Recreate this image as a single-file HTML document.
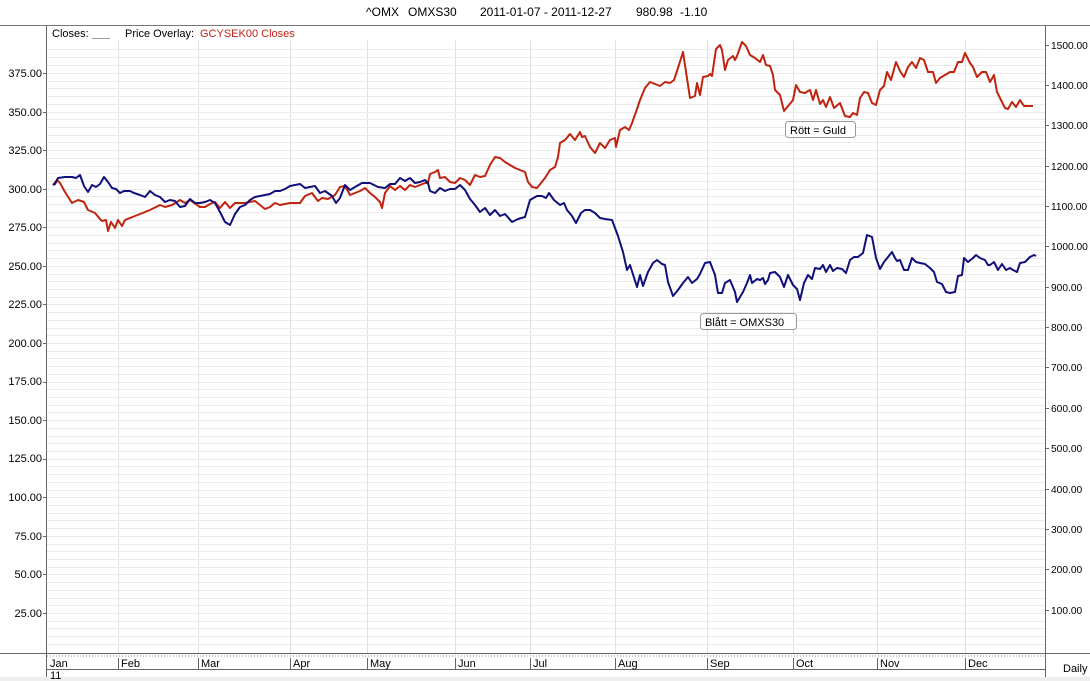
<!DOCTYPE html>
<html><head><meta charset="utf-8"><style>
body{margin:0;background:#fff;width:1090px;height:681px;overflow:hidden}
svg{display:block;font-family:"Liberation Sans",sans-serif}
</style></head><body>
<svg width="1090" height="681" viewBox="0 0 1090 681" xmlns="http://www.w3.org/2000/svg">
<rect width="1090" height="681" fill="#fff"/>
<g font-size="12" fill="#000">
<text x="366" y="16">^OMX</text><text x="408" y="16">OMXS30</text>
<text x="480" y="16">2011-01-07 - 2011-12-27</text>
<text x="636" y="16">980.98</text><text x="680" y="16">-1.10</text>
</g>
<line x1="0" y1="25.5" x2="1090" y2="25.5" stroke="#777" stroke-width="1"/>
<g stroke="#e0e0e0">
<line x1="118.5" y1="40" x2="118.5" y2="653"/><line x1="198.5" y1="40" x2="198.5" y2="653"/>
<line x1="290.5" y1="40" x2="290.5" y2="653"/><line x1="367.5" y1="40" x2="367.5" y2="653"/>
<line x1="455.5" y1="40" x2="455.5" y2="653"/><line x1="530.5" y1="40" x2="530.5" y2="653"/>
<line x1="615.5" y1="40" x2="615.5" y2="653"/><line x1="707.5" y1="40" x2="707.5" y2="653"/>
<line x1="793.5" y1="40" x2="793.5" y2="653"/><line x1="877.5" y1="40" x2="877.5" y2="653"/>
<line x1="965.5" y1="40" x2="965.5" y2="653"/>
</g>
<g stroke="#ebebeb" stroke-width="1">
<line x1="47" x2="1045" y1="49.5" y2="49.5"/><line x1="47" x2="1045" y1="57.5" y2="57.5"/><line x1="47" x2="1045" y1="65.5" y2="65.5"/><line x1="47" x2="1045" y1="73.5" y2="73.5"/><line x1="47" x2="1045" y1="81.5" y2="81.5"/><line x1="47" x2="1045" y1="88.5" y2="88.5"/><line x1="47" x2="1045" y1="96.5" y2="96.5"/><line x1="47" x2="1045" y1="104.5" y2="104.5"/><line x1="47" x2="1045" y1="112.5" y2="112.5"/><line x1="47" x2="1045" y1="119.5" y2="119.5"/><line x1="47" x2="1045" y1="127.5" y2="127.5"/><line x1="47" x2="1045" y1="135.5" y2="135.5"/><line x1="47" x2="1045" y1="142.5" y2="142.5"/><line x1="47" x2="1045" y1="150.5" y2="150.5"/><line x1="47" x2="1045" y1="158.5" y2="158.5"/><line x1="47" x2="1045" y1="166.5" y2="166.5"/><line x1="47" x2="1045" y1="173.5" y2="173.5"/><line x1="47" x2="1045" y1="181.5" y2="181.5"/><line x1="47" x2="1045" y1="189.5" y2="189.5"/><line x1="47" x2="1045" y1="196.5" y2="196.5"/><line x1="47" x2="1045" y1="204.5" y2="204.5"/><line x1="47" x2="1045" y1="212.5" y2="212.5"/><line x1="47" x2="1045" y1="220.5" y2="220.5"/><line x1="47" x2="1045" y1="227.5" y2="227.5"/><line x1="47" x2="1045" y1="235.5" y2="235.5"/><line x1="47" x2="1045" y1="243.5" y2="243.5"/><line x1="47" x2="1045" y1="250.5" y2="250.5"/><line x1="47" x2="1045" y1="258.5" y2="258.5"/><line x1="47" x2="1045" y1="266.5" y2="266.5"/><line x1="47" x2="1045" y1="274.5" y2="274.5"/><line x1="47" x2="1045" y1="281.5" y2="281.5"/><line x1="47" x2="1045" y1="289.5" y2="289.5"/><line x1="47" x2="1045" y1="297.5" y2="297.5"/><line x1="47" x2="1045" y1="304.5" y2="304.5"/><line x1="47" x2="1045" y1="312.5" y2="312.5"/><line x1="47" x2="1045" y1="320.5" y2="320.5"/><line x1="47" x2="1045" y1="328.5" y2="328.5"/><line x1="47" x2="1045" y1="335.5" y2="335.5"/><line x1="47" x2="1045" y1="343.5" y2="343.5"/><line x1="47" x2="1045" y1="351.5" y2="351.5"/><line x1="47" x2="1045" y1="358.5" y2="358.5"/><line x1="47" x2="1045" y1="366.5" y2="366.5"/><line x1="47" x2="1045" y1="374.5" y2="374.5"/><line x1="47" x2="1045" y1="382.5" y2="382.5"/><line x1="47" x2="1045" y1="389.5" y2="389.5"/><line x1="47" x2="1045" y1="397.5" y2="397.5"/><line x1="47" x2="1045" y1="405.5" y2="405.5"/><line x1="47" x2="1045" y1="412.5" y2="412.5"/><line x1="47" x2="1045" y1="420.5" y2="420.5"/><line x1="47" x2="1045" y1="428.5" y2="428.5"/><line x1="47" x2="1045" y1="436.5" y2="436.5"/><line x1="47" x2="1045" y1="443.5" y2="443.5"/><line x1="47" x2="1045" y1="451.5" y2="451.5"/><line x1="47" x2="1045" y1="459.5" y2="459.5"/><line x1="47" x2="1045" y1="466.5" y2="466.5"/><line x1="47" x2="1045" y1="474.5" y2="474.5"/><line x1="47" x2="1045" y1="482.5" y2="482.5"/><line x1="47" x2="1045" y1="490.5" y2="490.5"/><line x1="47" x2="1045" y1="497.5" y2="497.5"/><line x1="47" x2="1045" y1="505.5" y2="505.5"/><line x1="47" x2="1045" y1="513.5" y2="513.5"/><line x1="47" x2="1045" y1="520.5" y2="520.5"/><line x1="47" x2="1045" y1="528.5" y2="528.5"/><line x1="47" x2="1045" y1="536.5" y2="536.5"/><line x1="47" x2="1045" y1="544.5" y2="544.5"/><line x1="47" x2="1045" y1="551.5" y2="551.5"/><line x1="47" x2="1045" y1="559.5" y2="559.5"/><line x1="47" x2="1045" y1="567.5" y2="567.5"/><line x1="47" x2="1045" y1="574.5" y2="574.5"/><line x1="47" x2="1045" y1="582.5" y2="582.5"/><line x1="47" x2="1045" y1="590.5" y2="590.5"/><line x1="47" x2="1045" y1="598.5" y2="598.5"/><line x1="47" x2="1045" y1="605.5" y2="605.5"/><line x1="47" x2="1045" y1="613.5" y2="613.5"/><line x1="47" x2="1045" y1="621.5" y2="621.5"/><line x1="47" x2="1045" y1="628.5" y2="628.5"/><line x1="47" x2="1045" y1="636.5" y2="636.5"/><line x1="47" x2="1045" y1="644.5" y2="644.5"/>
</g>
<g stroke="#666" stroke-width="1" fill="none">
<line x1="46.5" y1="25" x2="46.5" y2="681"/>
<line x1="1045.5" y1="25" x2="1045.5" y2="681"/>
<line x1="0" y1="653.5" x2="1090" y2="653.5"/>
<line x1="46" y1="669.5" x2="1045" y2="669.5"/>
<line x1="118.5" y1="658" x2="118.5" y2="669"/><line x1="198.5" y1="658" x2="198.5" y2="669"/><line x1="290.5" y1="658" x2="290.5" y2="669"/><line x1="367.5" y1="658" x2="367.5" y2="669"/><line x1="455.5" y1="658" x2="455.5" y2="669"/><line x1="530.5" y1="658" x2="530.5" y2="669"/><line x1="615.5" y1="658" x2="615.5" y2="669"/><line x1="707.5" y1="658" x2="707.5" y2="669"/><line x1="793.5" y1="658" x2="793.5" y2="669"/><line x1="877.5" y1="658" x2="877.5" y2="669"/><line x1="965.5" y1="658" x2="965.5" y2="669"/>
</g>
<line x1="47" y1="656" x2="1045" y2="656" stroke="#888" stroke-dasharray="1,2"/>
<rect x="0" y="677" width="1090" height="4" fill="#eee"/>
<g font-size="11" fill="#000">
<text x="50" y="667">Jan</text><text x="121" y="667">Feb</text><text x="201" y="667">Mar</text><text x="293" y="667">Apr</text><text x="370" y="667">May</text><text x="458" y="667">Jun</text><text x="533" y="667">Jul</text><text x="618" y="667">Aug</text><text x="710" y="667">Sep</text><text x="796" y="667">Oct</text><text x="880" y="667">Nov</text><text x="968" y="667">Dec</text>
<text x="50" y="679">11</text><text x="1063" y="672">Daily</text>
</g>
<g font-size="11" fill="#000" text-anchor="end">
<text x="42" y="77">375.00</text><text x="42" y="116">350.00</text><text x="42" y="154">325.00</text><text x="42" y="193">300.00</text><text x="42" y="231">275.00</text><text x="42" y="270">250.00</text><text x="42" y="308">225.00</text><text x="42" y="347">200.00</text><text x="42" y="385">175.00</text><text x="42" y="424">150.00</text><text x="42" y="462">125.00</text><text x="42" y="501">100.00</text><text x="42" y="540">75.00</text><text x="42" y="578">50.00</text><text x="42" y="617">25.00</text>
</g>
<g stroke="#666"><line x1="43" x2="47" y1="73.5" y2="73.5"/><line x1="43" x2="47" y1="112.5" y2="112.5"/><line x1="43" x2="47" y1="150.5" y2="150.5"/><line x1="43" x2="47" y1="189.5" y2="189.5"/><line x1="43" x2="47" y1="227.5" y2="227.5"/><line x1="43" x2="47" y1="266.5" y2="266.5"/><line x1="43" x2="47" y1="304.5" y2="304.5"/><line x1="43" x2="47" y1="343.5" y2="343.5"/><line x1="43" x2="47" y1="382.5" y2="382.5"/><line x1="43" x2="47" y1="420.5" y2="420.5"/><line x1="43" x2="47" y1="459.5" y2="459.5"/><line x1="43" x2="47" y1="497.5" y2="497.5"/><line x1="43" x2="47" y1="536.5" y2="536.5"/><line x1="43" x2="47" y1="574.5" y2="574.5"/><line x1="43" x2="47" y1="613.5" y2="613.5"/>
<line x1="1045" x2="1049" y1="45.5" y2="45.5"/><line x1="1045" x2="1049" y1="85.5" y2="85.5"/><line x1="1045" x2="1049" y1="125.5" y2="125.5"/><line x1="1045" x2="1049" y1="166.5" y2="166.5"/><line x1="1045" x2="1049" y1="206.5" y2="206.5"/><line x1="1045" x2="1049" y1="246.5" y2="246.5"/><line x1="1045" x2="1049" y1="287.5" y2="287.5"/><line x1="1045" x2="1049" y1="327.5" y2="327.5"/><line x1="1045" x2="1049" y1="367.5" y2="367.5"/><line x1="1045" x2="1049" y1="408.5" y2="408.5"/><line x1="1045" x2="1049" y1="448.5" y2="448.5"/><line x1="1045" x2="1049" y1="489.5" y2="489.5"/><line x1="1045" x2="1049" y1="529.5" y2="529.5"/><line x1="1045" x2="1049" y1="569.5" y2="569.5"/><line x1="1045" x2="1049" y1="610.5" y2="610.5"/></g>
<g font-size="10.2" fill="#000">
<text x="1051" y="49">1500.00</text><text x="1051" y="89">1400.00</text><text x="1051" y="129">1300.00</text><text x="1051" y="170">1200.00</text><text x="1051" y="210">1100.00</text><text x="1051" y="250">1000.00</text><text x="1051" y="291">900.00</text><text x="1051" y="331">800.00</text><text x="1051" y="371">700.00</text><text x="1051" y="412">600.00</text><text x="1051" y="452">500.00</text><text x="1051" y="493">400.00</text><text x="1051" y="533">300.00</text><text x="1051" y="573">200.00</text><text x="1051" y="614">100.00</text>
</g>
<g font-size="11">
<text x="52" y="37" fill="#000">Closes:</text>
<line x1="92" y1="38.5" x2="110" y2="38.5" stroke="#99a" />
<text x="125" y="37" fill="#000">Price Overlay:</text>
<text x="200" y="37" fill="#c0221a">GCYSEK00 Closes</text>
</g>
<polyline fill="none" stroke="#c0240f" stroke-width="2" stroke-linejoin="round" points="53,185 57,180 60,183 65,192 72,203 78,200 84,202 88,210 95,213 100,219 102,221 106,220 108,231 111,222 115,228 118,220 122,226 125,220 135,216 140,214 150,210 160,205 165,207 172,205 180,200 185,203 190,200 200,207 205,207 210,204 215,202 220,208 225,202 230,208 235,203 240,203 245,203 255,201 265,209 270,207 275,203 280,205 290,203 300,203 305,196 312,193 318,201 322,198 328,199 335,195 340,187 345,186 350,195 355,193 360,191 365,188 370,193 375,197 380,202 382,208 385,193 390,186 395,190 400,186 405,190 410,185 415,187 420,185 425,183 428,183 430,174 435,172 438,170 440,178 445,177 450,182 455,183 460,178 465,180 470,185 475,175 480,177 485,176 490,165 495,157 500,158 505,162 510,165 515,168 520,170 525,172 528,182 532,187 537,188 545,178 550,170 555,167 558,157 560,143 565,140 570,134 575,140 580,132 582,137 585,136 590,147 595,153 600,143 605,148 610,140 615,138 616,147 620,130 625,127 629,130 632,123 637,109 640,100 645,88 650,82 655,84 660,86 665,82 670,83 674,80 678,68 683,52 690,98 695,96 697,83 700,95 703,77 708,76 710,74 712,76 716,49 720,45 722,50 725,70 728,60 733,56 735,60 737,56 742,42 746,46 750,55 755,58 760,62 763,55 766,65 770,66 773,75 775,90 780,95 784,111 789,105 793,100 796,85 800,92 805,93 808,91 810,90 813,100 816,90 820,104 823,100 826,107 830,97 834,108 840,103 845,116 850,117 853,113 857,115 860,98 864,92 868,93 872,103 876,105 880,90 884,86 887,72 891,80 896,62 900,71 904,77 908,67 912,62 916,68 920,58 924,60 928,72 933,72 936,83 940,78 945,75 950,72 954,72 958,62 962,62 965,53 970,63 973,67 977,77 982,72 986,72 990,82 994,75 997,92 1000,98 1005,108 1008,109 1012,102 1016,107 1020,100 1024,106 1033,106"/>
<polyline fill="none" stroke="#10107a" stroke-width="2" stroke-linejoin="round" points="53,185 55,184 58,178 65,177 72,177 76,178 80,175 84,186 88,192 92,185 96,187 100,184 104,177 108,182 112,188 116,189 120,193 124,191 130,191 134,193 140,195 145,197 150,191 155,195 160,197 165,202 170,200 175,201 180,207 185,206 190,199 195,203 200,203 205,202 210,200 215,203 220,212 225,222 230,225 235,214 240,207 245,205 250,200 255,197 260,196 265,195 270,194 275,191 280,191 285,189 290,186 300,184 305,188 310,187 315,186 320,193 325,191 332,196 336,203 340,198 345,185 350,190 355,187 362,183 370,183 378,187 385,188 390,184 395,184 400,178 405,181 410,178 415,183 420,182 425,180 428,183 430,191 435,193 440,188 445,191 450,189 455,189 460,185 465,190 470,199 475,205 480,212 485,208 490,215 495,210 500,216 505,214 512,222 518,219 525,217 530,200 537,196 542,196 546,198 549,193 554,200 560,205 564,203 567,210 572,216 576,223 581,213 585,210 590,210 595,213 600,218 605,219 612,220 618,236 623,252 627,270 630,265 637,287 640,275 643,286 648,272 653,263 657,260 662,264 665,265 668,282 673,296 678,290 683,283 688,277 692,283 697,279 700,274 705,263 710,262 715,275 718,293 722,293 725,283 730,280 735,292 737,302 743,292 747,283 750,275 752,283 757,279 760,280 763,278 765,284 768,280 770,273 775,272 780,277 784,287 788,275 793,285 797,289 800,300 804,283 808,275 812,279 815,268 820,269 823,265 826,272 830,265 833,271 837,268 842,269 846,273 850,260 854,257 858,257 863,253 867,235 872,237 876,258 880,269 884,262 888,257 892,252 895,258 897,261 900,260 904,270 908,270 912,258 916,262 920,263 925,264 930,268 934,272 937,282 942,284 946,292 950,293 955,292 958,276 962,275 964,258 968,262 973,258 976,255 980,258 985,260 988,265 990,265 994,262 998,270 1002,264 1006,270 1010,268 1013,270 1017,272 1020,263 1025,262 1030,257 1034,255 1036,256"/>
<g font-size="11">
<rect x="785.5" y="121.5" width="70" height="16" rx="3" fill="#fff" stroke="#999"/>
<text x="790" y="134">Rött = Guld</text>
<rect x="700.5" y="313.5" width="96" height="16" rx="3" fill="#fff" stroke="#999"/>
<text x="705" y="326">Blått = OMXS30</text>
</g>
</svg>
</body></html>
